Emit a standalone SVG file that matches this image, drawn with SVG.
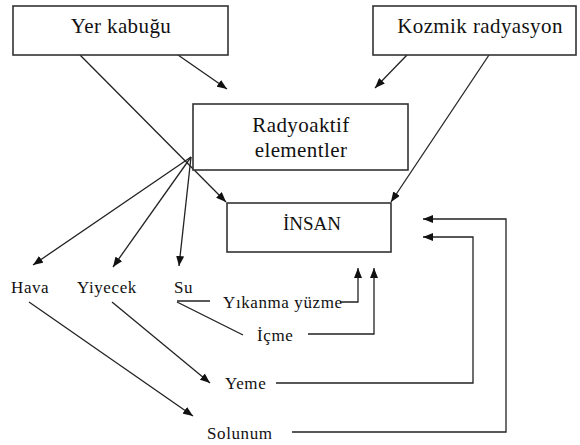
<svg xmlns="http://www.w3.org/2000/svg" width="580" height="445" viewBox="0 0 580 445">
<style>
.box{fill:#fff;stroke:#333;stroke-width:1.6}
.bt{font-family:'Liberation Serif','Times New Roman',serif;font-size:21px;letter-spacing:0.4px;fill:#111;text-anchor:middle}
.lt{font-family:'Liberation Serif','Times New Roman',serif;font-size:17px;letter-spacing:0.6px;fill:#111}
.c line,.c polyline{fill:none;stroke:#222;stroke-width:1.3}
</style>
<defs>
<marker id="ah" viewBox="0 0 10 8" refX="10" refY="4" markerWidth="10" markerHeight="8" markerUnits="userSpaceOnUse" orient="auto">
<path d="M0,0 L10,4 L0,8 Z" fill="#111"/>
</marker>
</defs>
<rect width="580" height="445" fill="#fff"/>
<g class="c" id="connectors">
<line x1="80" y1="55" x2="226" y2="202" marker-end="url(#ah)"/>
<line x1="178" y1="55" x2="227" y2="89" marker-end="url(#ah)"/>
<line x1="407" y1="55" x2="375" y2="88" marker-end="url(#ah)"/>
<line x1="489" y1="55" x2="391" y2="202" marker-end="url(#ah)"/>
<line x1="191" y1="157" x2="33" y2="265" marker-end="url(#ah)"/>
<line x1="191" y1="157" x2="113" y2="267" marker-end="url(#ah)"/>
<line x1="191" y1="157" x2="179" y2="266" marker-end="url(#ah)"/>
<line x1="177" y1="301" x2="210" y2="301"/>
<line x1="177" y1="302" x2="243" y2="335"/>
<line x1="29" y1="302" x2="193" y2="416" marker-end="url(#ah)"/>
<line x1="112" y1="302" x2="210" y2="383" marker-end="url(#ah)"/>
<polyline points="340,302 358,302 358,268" marker-end="url(#ah)"/>
<polyline points="308,334 374,334 374,268" marker-end="url(#ah)"/>
<polyline points="276,383 473,383 473,237 423,237" marker-end="url(#ah)"/>
<polyline points="292,432 506,432 506,219 423,219" marker-end="url(#ah)"/>
</g>
<g id="yer-kabugu">
<rect class="box" x="13" y="6" width="215" height="49"/>
<text class="bt" x="121" y="33">Yer kabuğu</text>
</g>
<g id="kozmik-radyasyon">
<rect class="box" x="373" y="6" width="203" height="49"/>
<text class="bt" x="480" y="33">Kozmik radyasyon</text>
</g>
<g id="radyoaktif-elementler">
<rect class="box" x="193" y="104" width="215" height="66"/>
<text class="bt" x="301" y="132">Radyoaktif</text>
<text class="bt" x="301" y="157">elementler</text>
</g>
<g id="insan">
<rect class="box" x="227" y="203" width="164" height="49"/>
<text class="bt" x="312" y="230" style="font-size:19px;letter-spacing:0">İNSAN</text>
</g>
<g id="hava"><text class="lt" x="11" y="293">Hava</text></g>
<g id="yiyecek"><text class="lt" x="77" y="293">Yiyecek</text></g>
<g id="su"><text class="lt" x="174" y="293">Su</text></g>
<g id="yikanma"><text class="lt" x="223" y="308">Yıkanma yüzme</text></g>
<g id="icme"><text class="lt" x="257" y="341">İçme</text></g>
<g id="yeme"><text class="lt" x="225" y="389">Yeme</text></g>
<g id="solunum"><text class="lt" x="207" y="439">Solunum</text></g>
</svg>
